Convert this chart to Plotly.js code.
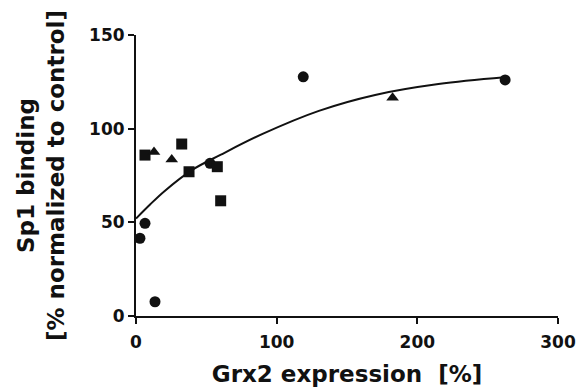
<!DOCTYPE html>
<html>
<head>
<meta charset="utf-8">
<script src="https://cdn.plot.ly/plotly-3.0.1.min.js"></script>
<style>html,body{margin:0;padding:0;background:#fff;}#chart{width:579px;height:389px;}</style>
</head>
<body>
<div id="chart"></div>
<script>
// Data
const circleX = [2.8, 6.4, 13.5, 52.6, 118.9, 262.4];
const circleY = [41.5, 49.5, 7.6, 81.5, 127.7, 126.0];
const squareX = [6.4, 32.5, 37.7, 57.8, 60.2];
const squareY = [85.9, 91.8, 77.0, 79.7, 61.5];
const triangleX = [12.8, 25.4, 182.4];
const triangleY = [87.5, 83.5, 116.5];
const curveX = [0, 10, 20, 40, 60, 90, 130, 170, 215, 262];
const curveY = [52, 59.5, 66.5, 78, 86, 97.2, 109.5, 118, 123.8, 127.4];
const xTicks = [0, 100, 200, 300];
const yTicks = [0, 50, 100, 150];

const ink = '#111111';
const fontFam = 'DejaVu Sans, Arial, sans-serif';

const traces = [
  {x: curveX, y: curveY, mode: 'lines', line: {color: ink, width: 2, shape: 'spline'}, hoverinfo: 'skip', cliponaxis: false},
  {x: circleX, y: circleY, mode: 'markers', marker: {symbol: 'circle', size: 11, color: ink}, cliponaxis: false},
  {x: squareX, y: squareY, mode: 'markers', marker: {symbol: 'square', size: 11, color: ink}, cliponaxis: false},
  {x: triangleX, y: triangleY, mode: 'markers', marker: {symbol: 'triangle-up', size: 11, color: ink}, cliponaxis: false}
];

const layout = {
  width: 579, height: 389,
  margin: {l: 136, r: 21, t: 35, b: 73},
  paper_bgcolor: '#fff', plot_bgcolor: '#fff',
  showlegend: false,
  xaxis: {
    range: [0, 300], tickvals: xTicks, ticktext: xTicks.map(String),
    showgrid: false, zeroline: false, showline: true, linecolor: ink, linewidth: 2,
    ticks: 'outside', ticklen: 6, tickwidth: 2, tickcolor: ink, ticklabelstandoff: 4,
    tickfont: {family: fontFam, size: 17, color: ink, weight: 'bold'},
    title: {text: 'Grx2 expression  [%]', font: {family: fontFam, size: 23, color: ink, weight: 'bold'}, standoff: 14}
  },
  yaxis: {
    range: [0, 150], tickvals: yTicks, ticktext: yTicks.map(String),
    showgrid: false, zeroline: false, showline: true, linecolor: ink, linewidth: 2,
    ticks: 'outside', ticklen: 6, tickwidth: 2, tickcolor: ink,
    tickfont: {family: fontFam, size: 17, color: ink, weight: 'bold'},
    title: {text: 'Sp1 binding<br>[% normalized to control]', font: {family: fontFam, size: 23, color: ink, weight: 'bold'}, standoff: 18}
  }
};

Plotly.newPlot('chart', traces, layout, {displayModeBar: false, staticPlot: true});
</script>
</body>
</html>
